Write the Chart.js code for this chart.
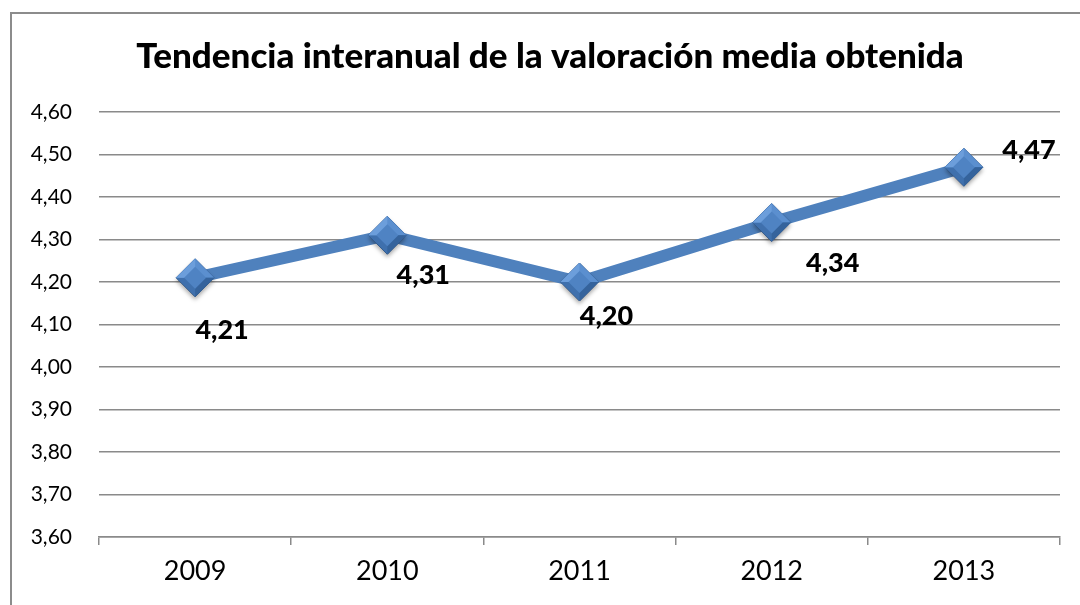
<!DOCTYPE html>
<html>
<head>
<meta charset="utf-8">
<script src="https://cdn.jsdelivr.net/npm/chart.js@4/dist/chart.umd.min.js"></script>
<style>
  html, body { margin: 0; padding: 0; background: #ffffff; }
  #wrap { width: 1080px; height: 605px; }
</style>
</head>
<body>
<div id="wrap"><canvas id="chart" width="1080" height="605"></canvas></div>
<script>
const years = ['2009', '2010', '2011', '2012', '2013'];
const valoracion = [4.21, 4.31, 4.20, 4.34, 4.47];
const yTicks = [3.6, 3.7, 3.8, 3.9, 4.0, 4.1, 4.2, 4.3, 4.4, 4.5, 4.6];

const fmt = v => v.toFixed(2).replace('.', ',');

// where each value label sits relative to its point (Excel placed them by hand)
const labelOffsets = [[27, 53], [36, 40], [27, 34], [61, 41], [65, -17]];

const frame = {
    id: 'frame',
    beforeDraw(chart) {
        const c = chart.ctx;
        c.save();
        c.fillStyle = '#ffffff';
        c.fillRect(0, 0, chart.width, chart.height);
        c.strokeStyle = '#8c8c8c';
        c.lineWidth = 2;
        c.strokeRect(11, 13, chart.width + 20, chart.height + 20);
        c.restore();
    }
};

// the Excel title is centred a bit right of the canvas middle
const titleShift = {
    id: 'titleShift',
    afterLayout(chart) {
        if (chart.titleBlock) chart.titleBlock.left += 28;
    }
};

// bevelled look of the Excel diamond markers
const bevel = {
    id: 'bevel',
    afterDatasetsDraw(chart) {
        const c = chart.ctx;
        const r = 19, k = 11;
        c.save();
        chart.getDatasetMeta(0).data.forEach(pt => {
            const x = pt.x, y = pt.y;
            c.shadowColor = 'rgba(0,0,0,0.35)';
            c.shadowBlur = 4;
            c.shadowOffsetY = 3;
            c.fillStyle = '#3f70ad';
            c.beginPath();
            c.moveTo(x, y - r); c.lineTo(x + r, y); c.lineTo(x, y + r); c.lineTo(x - r, y);
            c.closePath();
            c.fill();
            c.shadowColor = 'transparent';
            // upper facets lighter
            c.fillStyle = '#5b8fcf';
            c.beginPath();
            c.moveTo(x, y - r); c.lineTo(x + r, y); c.lineTo(x - r, y);
            c.closePath();
            c.fill();
            c.fillStyle = '#6c9edb';
            c.beginPath();
            c.moveTo(x, y - r); c.lineTo(x - r, y); c.lineTo(x, y);
            c.closePath();
            c.fill();
            // bottom-right facet darker
            c.fillStyle = '#35639c';
            c.beginPath();
            c.moveTo(x + r, y); c.lineTo(x, y + r); c.lineTo(x, y);
            c.closePath();
            c.fill();
            // inner face
            c.fillStyle = '#4f83c3';
            c.beginPath();
            c.moveTo(x, y - k); c.lineTo(x + k, y); c.lineTo(x, y + k); c.lineTo(x - k, y);
            c.closePath();
            c.fill();
        });
        c.restore();
    }
};

const valueLabels = {
    id: 'valueLabels',
    afterDatasetsDraw(chart) {
        const c = chart.ctx;
        const meta = chart.getDatasetMeta(0);
        c.save();
        c.font = '900 27px Lato';
        c.fillStyle = '#000000';
        c.textAlign = 'center';
        c.textBaseline = 'middle';
        meta.data.forEach((pt, i) => {
            const off = labelOffsets[i];
            c.fillText(fmt(valoracion[i]), pt.x + off[0], pt.y + off[1]);
        });
        c.restore();
    }
};

new Chart(document.getElementById('chart'), {
    type: 'line',
    data: {
        labels: years,
        datasets: [{
            data: valoracion,
            borderColor: '#4f81bd',
            borderWidth: 12,
            tension: 0,
            pointStyle: 'rectRot',
            pointRadius: 19,
            pointHoverRadius: 19,
            pointBackgroundColor: '#4a7ebb',
            pointBorderColor: '#3a68a0',
            pointBorderWidth: 1
        }]
    },
    options: {
        responsive: false,
        animation: false,
        events: [],
        layout: { padding: { top: 0, right: 18, bottom: 0, left: 10 } },
        plugins: {
            legend: { display: false },
            tooltip: { enabled: false },
            title: {
                display: true,
                text: 'Tendencia interanual de la valoración media obtenida',
                color: '#000000',
                font: { family: 'Lato', size: 35, weight: '900' },
                padding: { top: 36, bottom: 34 }
            }
        },
        scales: {
            y: {
                min: 3.6,
                max: 4.6,
                afterBuildTicks: s => { s.ticks = yTicks.map(v => ({ value: v })); },
                afterFit: s => { s.width = 89; },
                border: { display: false },
                grid: { color: '#8a8a8a', lineWidth: 1.5, drawTicks: false },
                ticks: {
                    color: '#000000',
                    padding: 27,
                    font: { family: 'Lato', size: 21 },
                    callback: v => fmt(v)
                }
            },
            x: {
                offset: true,
                afterFit: s => { s.height = 68; },
                border: { color: '#8a8a8a', width: 1.5 },
                grid: { offset: true, drawOnChartArea: false, color: '#8a8a8a', lineWidth: 1.5, tickLength: 8 },
                ticks: {
                    color: '#000000',
                    padding: 10,
                    font: { family: 'Lato', size: 27 }
                }
            }
        }
    },
    plugins: [frame, titleShift, bevel, valueLabels]
});
</script>
</body>
</html>
